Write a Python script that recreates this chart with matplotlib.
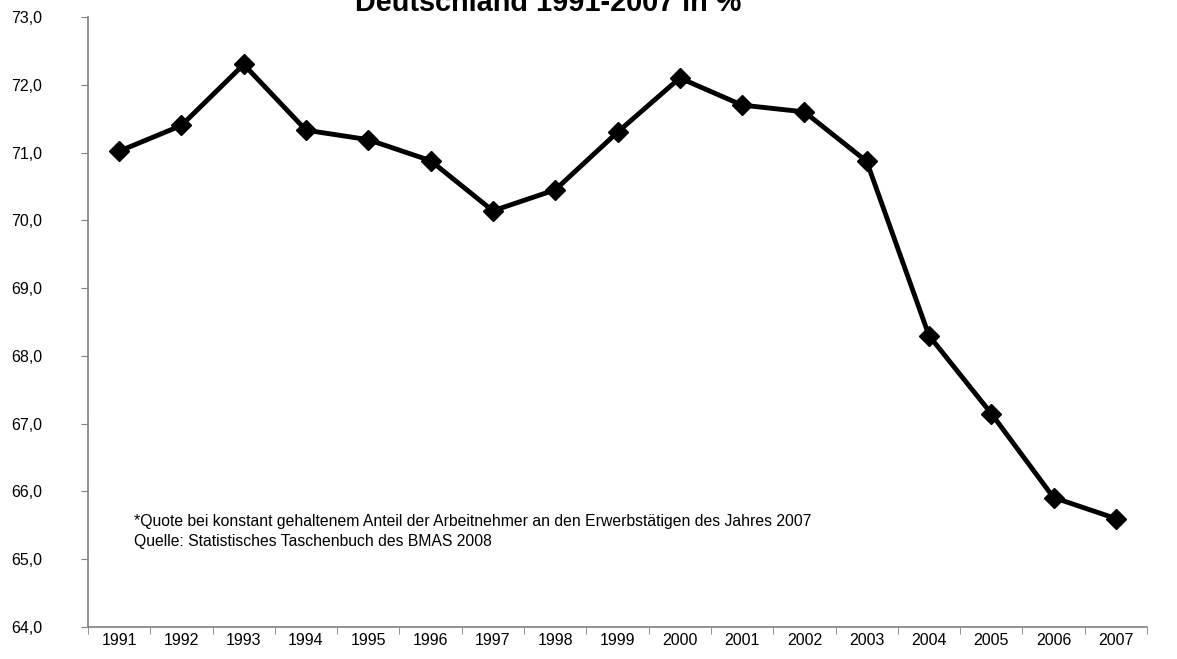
import matplotlib
matplotlib.use("Agg")
import matplotlib.pyplot as plt
from matplotlib.ticker import FuncFormatter, FixedLocator, NullFormatter

years = [str(y) for y in range(1991, 2008)]
values = [71.02, 71.4, 72.3, 71.33, 71.19, 70.88, 70.14, 70.45, 71.3, 72.1,
          71.7, 71.6, 70.87, 68.3, 67.15, 65.91, 65.6]
title_text = "Deutschland 1991-2007 in %"
note_lines = ["*Quote bei konstant gehaltenem Anteil der Arbeitnehmer an den Erwerbstätigen des Jahres 2007",
              "Quelle: Statistisches Taschenbuch des BMAS 2008"]

plt.rcParams['font.family'] = ['Liberation Sans', 'DejaVu Sans']

fig = plt.figure(figsize=(11.77, 6.59), dpi=100)
ax = fig.add_axes([88/1177, 1-627/659, (1147-88)/1177, (627-17)/659])

x = list(range(len(years)))
ax.plot(x, values, color='black', lw=3.5, marker='D', markersize=10, zorder=3)

ax.set_xlim(-0.5, len(years)-0.5)
ax.set_ylim(64, 73)
ax.set_yticks([64 + i for i in range(10)])
ax.yaxis.set_major_formatter(FuncFormatter(lambda v, p: f"{v:.1f}".replace('.', ',')))
ax.set_xticks(x)
ax.set_xticklabels(years)
ax.tick_params(axis='x', which='major', length=0, pad=4, labelsize=11.5)
ax.xaxis.set_minor_locator(FixedLocator([i - 0.5 for i in range(len(years)+1)]))
ax.xaxis.set_minor_formatter(NullFormatter())
ax.tick_params(axis='x', which='minor', length=5, color='#808080', direction='out')
ax.tick_params(axis='y', length=5, color='#808080', labelsize=11.5, pad=50)
for lab in ax.get_yticklabels():
    lab.set_horizontalalignment('left')

for s in ['top', 'right']:
    ax.spines[s].set_visible(False)
for s in ['left', 'bottom']:
    ax.spines[s].set_color('#808080')
    ax.spines[s].set_linewidth(1.2)

fig.text(548/1177, 1-11/659, title_text, ha='center', va='baseline',
         fontsize=20.8, fontweight='bold')

fig.text(134/1177, 1-526/659, note_lines[0], ha='left', va='baseline', fontsize=11.3)
fig.text(134/1177, 1-546/659, note_lines[1], ha='left', va='baseline', fontsize=11.3)

fig.savefig("out.png", dpi=100)
